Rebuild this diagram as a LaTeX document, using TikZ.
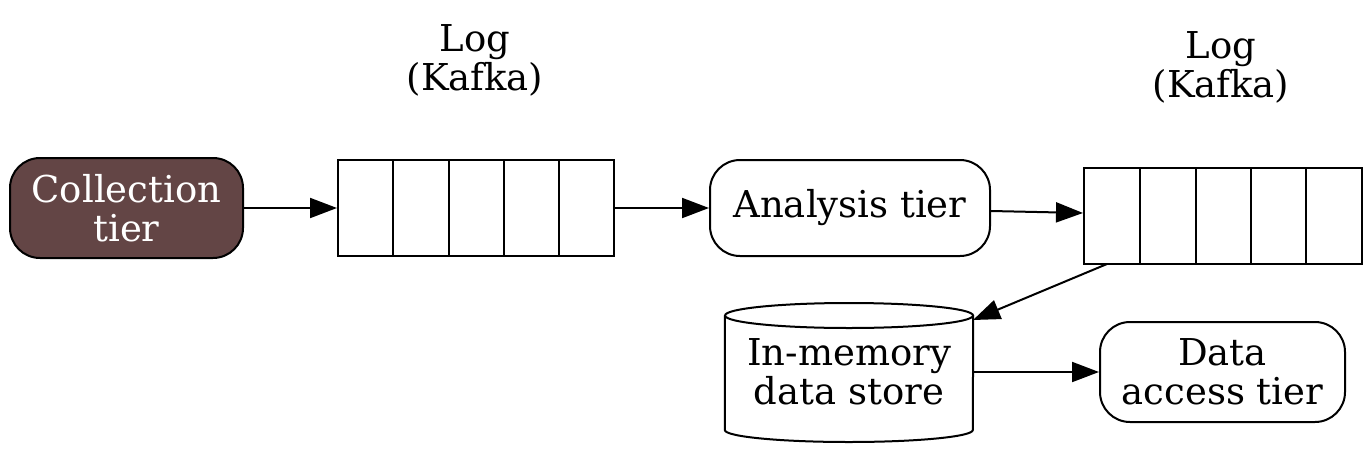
\documentclass[tikz,border=0pt]{standalone}
\usepackage{fontspec}
\setmainfont{DejaVu Serif}
\usetikzlibrary{arrows.meta}
\definecolor{collfill}{HTML}{634545}
\tikzset{
  lw/.style={line width=2pt},
  txt/.style={font=\fontsize{37}{39}\selectfont},
  tier/.style={draw, lw, rounded corners=30pt, align=center, inner sep=0pt, txt},
  logbox/.style={draw, lw, minimum width=276pt, minimum height=96pt, inner sep=0pt},
  lbl/.style={align=center, txt},
  conn/.style={lw, -{Triangle[length=27pt, width=20pt]}},
}
\begin{document}
\begin{tikzpicture}[x=1pt, y=-1pt]
\useasboundingbox (0,0) rectangle (1372,452);
% nodes
\node[tier, fill=collfill, text=white, minimum width=233pt, minimum height=100pt] (coll) at (126.5,208) {Collection\\tier};
\node[logbox] (log1) at (476,208) {};
\foreach \x in {393,449,504,559} \draw[lw] (\x,160) -- (\x,256);
\node[lbl] (lab1) at (475,60) {Log\\(Kafka)};
\node[tier, minimum width=280pt, minimum height=96pt] (ana) at (850,208) {Analysis tier};
\node[logbox, minimum width=278pt] (log2) at (1223,216) {};
\foreach \x in {1140,1196,1251,1306} \draw[lw] (\x,168) -- (\x,264);
\node[lbl] (lab2) at (1221,67) {Log\\(Kafka)};
\node[tier, minimum width=245pt, minimum height=100pt] (dat) at (1222.5,372) {Data\\access tier};
% cylinder
\node[align=center, inner sep=0pt, minimum width=248pt, minimum height=138pt, txt] (mem) at (849,372) {In-memory\\data store};
\draw[lw] (mem.west |- 0,315.5) -- (mem.west |- 0,430) arc[start angle=180, end angle=360, x radius=124pt, y radius=12pt] -- (mem.east |- 0,315.5);
\draw[lw] (849,315.5) ellipse [x radius=124pt, y radius=12.5pt];
\coordinate (memin) at (973,320);
\coordinate (log2out) at (1107,264);
% connectors
\draw[conn] (coll.east) -- (log1.west);
\draw[conn] (log1.east) -- (ana.west);
\draw[conn] ([yshift=-3pt]ana.east) -- ([yshift=3pt]log2.west);
\draw[conn] (log2out) -- (memin);
\draw[conn] (mem.east) -- (dat.west);
\end{tikzpicture}
\end{document}
